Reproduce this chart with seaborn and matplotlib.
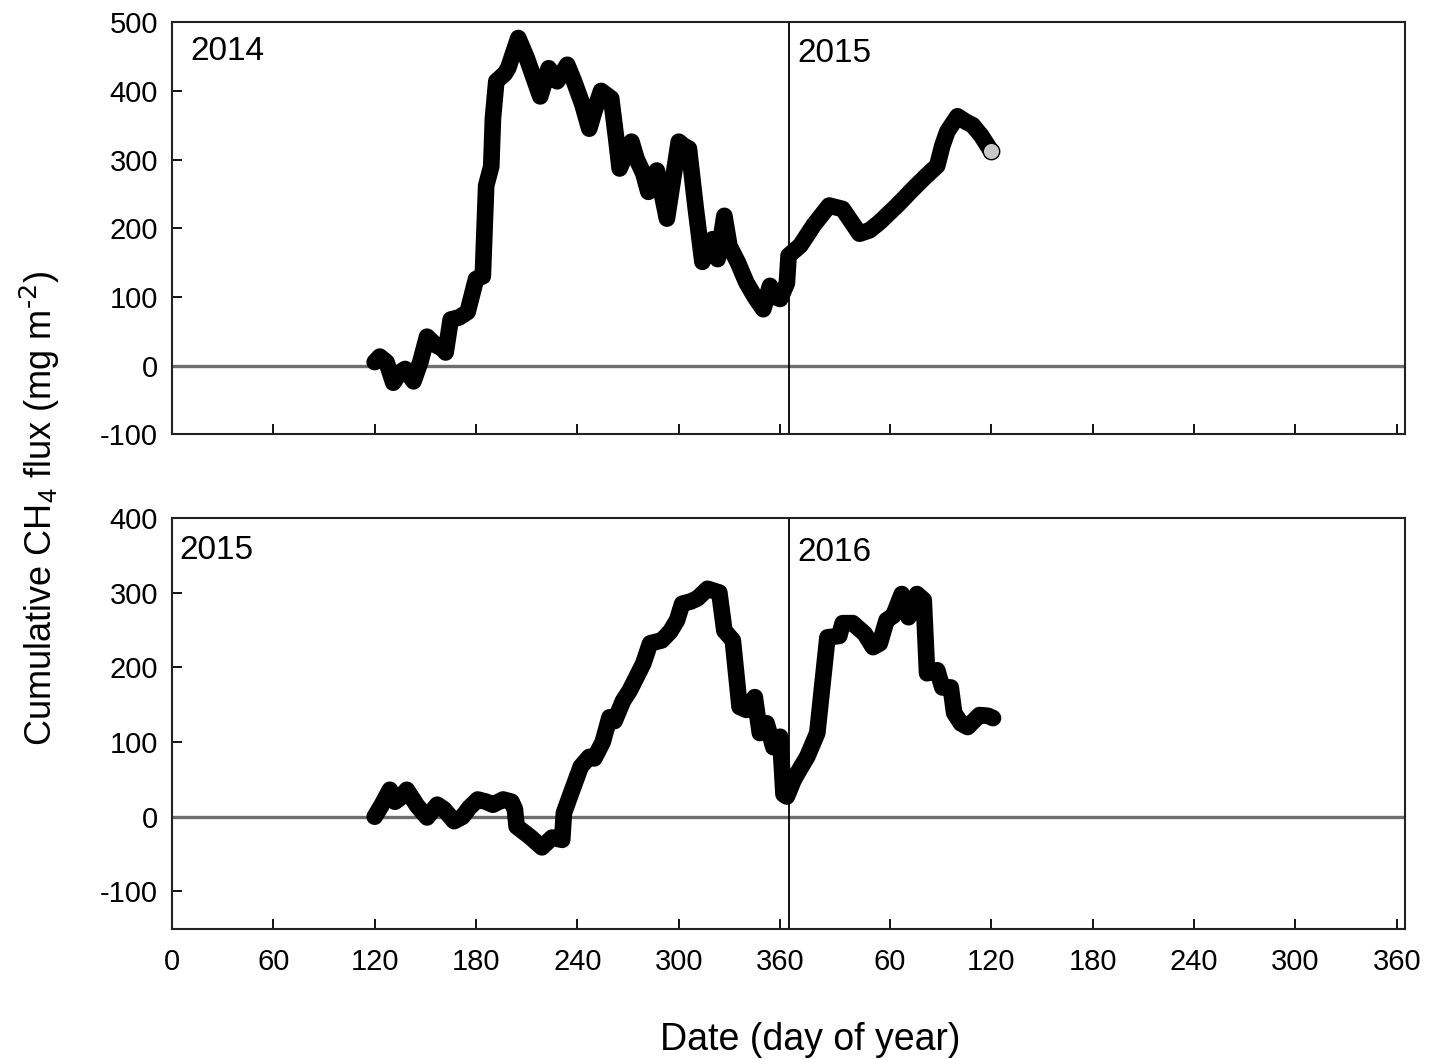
import matplotlib
matplotlib.use("Agg")
import matplotlib.pyplot as plt
import seaborn as sns
import pandas as pd

sns.set_style("ticks")
plt.rcParams["font.family"] = ["Liberation Sans", "DejaVu Sans"]
plt.rcParams["mathtext.default"] = "regular"
plt.rcParams["axes.unicode_minus"] = False
plt.rcParams["text.color"] = "black"
plt.rcParams["xtick.color"] = "black"
plt.rcParams["ytick.color"] = "black"

# continuous day count from Jan 1 of first year (0-730)
top_days = [120, 123, 127, 131, 135, 138, 143, 147, 151, 156, 160, 162, 165, 170, 175, 180,
            184, 186, 189, 190, 192, 197, 199, 205, 210, 214, 218, 223, 228, 234, 238, 243,
            247, 250, 254, 260, 263, 265, 269, 272, 275, 279, 282, 287, 290, 293, 296, 300,
            303, 306, 310, 314, 317, 320, 323, 327, 330, 335, 340, 345, 350, 354, 357, 360,
            364, 365, 372, 380, 389, 397, 402, 407, 413, 419, 430, 439, 446, 453, 456, 459,
            465, 470, 474, 479, 485]
top_flux = [5, 13, 5, -25, -10, -5, -23, 5, 42, 30, 25, 19, 67, 70, 78, 126,
            130, 262, 290, 360, 414, 425, 433, 477, 448, 420, 392, 433, 414, 438, 414, 380,
            345, 370, 400, 389, 330, 287, 310, 326, 301, 280, 253, 284, 250, 214, 262, 326,
            320, 316, 230, 151, 170, 184, 155, 218, 174, 150, 121, 100, 82, 116, 100, 97,
            120, 160, 175, 205, 233, 228, 210, 192, 197, 209, 235, 258, 275, 291, 320, 341,
            363, 355, 350, 335, 312]

bot_days = [120, 124, 129, 132, 135, 139, 145, 151, 157, 161, 167, 172, 176, 181, 186, 190,
            196, 201, 203, 204, 212, 219, 225, 231, 232, 236, 242, 247, 250, 255, 259, 262,
            267, 271, 279, 283, 290, 295, 299, 302, 307, 311, 317, 324, 327, 332, 336, 340,
            345, 348, 352, 356, 360, 362, 364, 368, 372, 376, 382, 388, 395, 397, 403, 410,
            415, 419, 423, 427, 432, 436, 441, 445, 447, 453, 456, 461, 463, 467, 471, 478,
            483, 486]
bot_flux = [0, 15, 36, 20, 25, 36, 15, -1, 16, 10, -6, 0, 12, 23, 20, 16,
            23, 20, 10, -13, -27, -41, -28, -31, 5, 30, 67, 80, 78, 100, 133, 128,
            155, 169, 205, 232, 236, 248, 263, 285, 288, 292, 305, 300, 249, 236, 147, 143,
            160, 112, 125, 93, 107, 30, 27, 49, 65, 80, 112, 240, 242, 259, 259, 245,
            227, 232, 263, 269, 298, 267, 298, 290, 192, 196, 173, 173, 139, 125, 120, 136,
            135, 132]

tick_pos = [0, 60, 120, 180, 240, 300, 360, 425, 485, 545, 605, 665, 725]
tick_lab = ["0", "60", "120", "180", "240", "300", "360", "60", "120", "180", "240", "300", "360"]

panels = [
    dict(days=top_days, flux=top_flux, ylim=(-100, 500), yticks=[-100, 0, 100, 200, 300, 400, 500],
         years=["2014", "2015"], ypos=0.93),
    dict(days=bot_days, flux=bot_flux, ylim=(-150, 400), yticks=[-100, 0, 100, 200, 300, 400],
         years=["2015", "2016"], ypos=0.92),
]

fig = plt.figure(figsize=(14.39, 10.59), dpi=100)
axes = [fig.add_axes([0.1195, 0.590, 0.857, 0.389]),
        fig.add_axes([0.1195, 0.123, 0.857, 0.388])]

for i, (ax, p) in enumerate(zip(axes, panels)):
    df = pd.DataFrame({"day": p["days"], "flux": p["flux"]})
    ax.axhline(0, color="#6e6e6e", lw=2.4, zorder=1)
    sns.lineplot(data=df, x="day", y="flux", ax=ax, sort=False, estimator=None,
                 color="black", lw=12, solid_capstyle="round", solid_joinstyle="round", zorder=3)
    ax.axvline(365, color="black", lw=1.3, zorder=2)
    ax.set_xlim(0, 730)
    ax.set_ylim(*p["ylim"])
    ax.set_yticks(p["yticks"])
    ax.set_xticks(tick_pos)
    if i == 1:
        ax.set_xticklabels(tick_lab)
    else:
        ax.set_xticklabels([])
    ax.tick_params(direction="in", length=7, width=1.3, labelsize=21, pad=10)
    ax.tick_params(axis="x", pad=14)
    for s in ax.spines.values():
        s.set_linewidth(1.5)
        s.set_color("#222222")
    ax.set_xlabel("")
    ax.set_ylabel("")
    ax.text(0.015 if i == 0 else 0.006, p["ypos"], p["years"][0], transform=ax.transAxes,
            fontsize=24, va="center")
    ax.text(0.507, p["ypos"] - 0.005, p["years"][1], transform=ax.transAxes,
            fontsize=24, va="center")

# last measurement in top panel marked in grey
axes[0].scatter([top_days[-1]], [top_flux[-1]], s=140, color="#c8c8c8",
                edgecolor="black", linewidth=1.0, zorder=4)

fig.text(0.028, 0.52, r"Cumulative CH$_4$ flux (mg m$^{\text{-2}}$)", rotation=90,
         fontsize=26, va="center", ha="center")
fig.text(0.563, 0.018, "Date (day of year)", fontsize=27, va="center", ha="center")

fig.savefig("out.png", dpi=100)
